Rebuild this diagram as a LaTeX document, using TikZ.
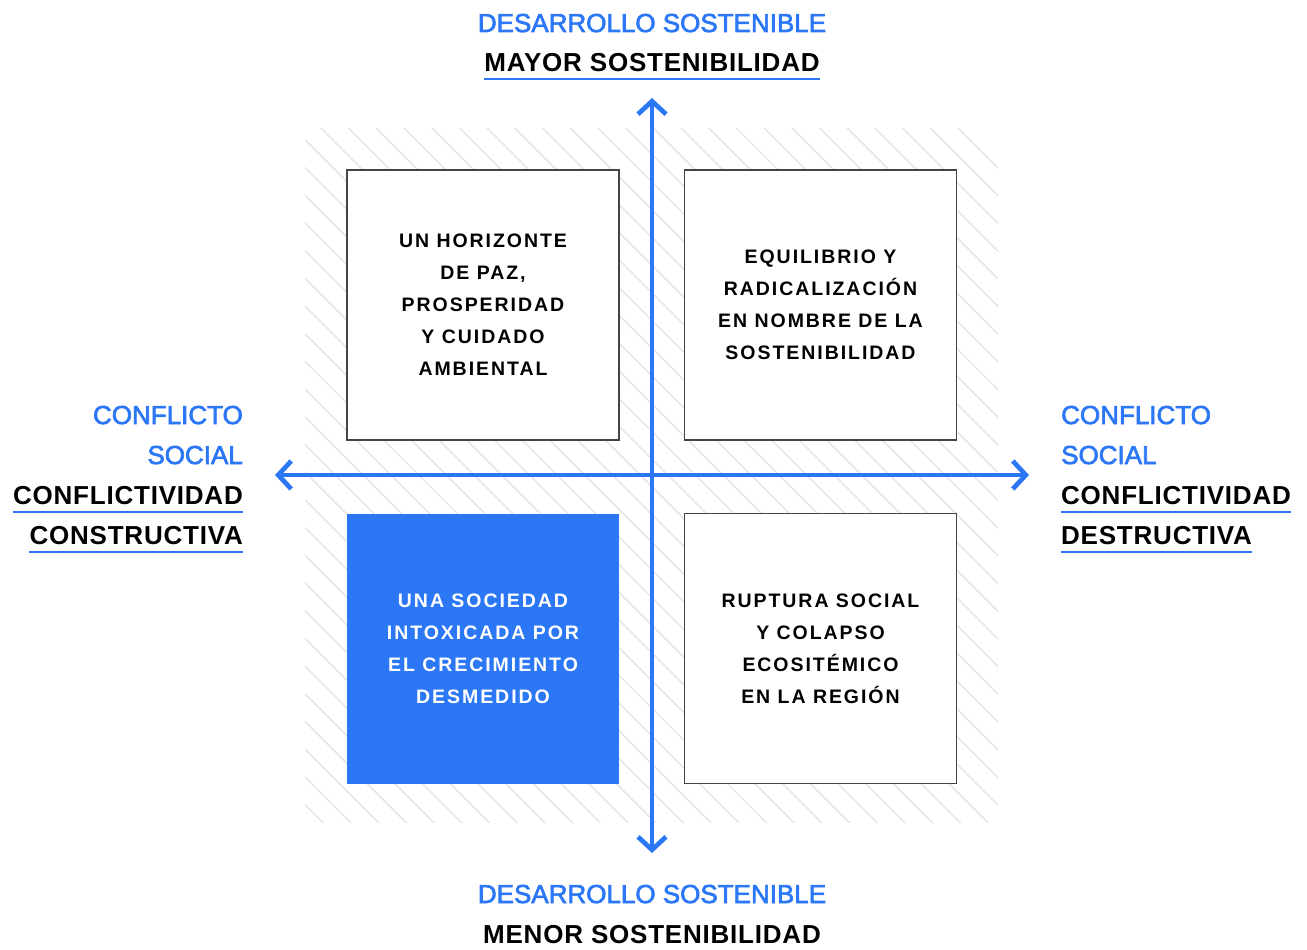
\documentclass[tikz,border=0pt]{standalone}
\usepackage{fontspec}
\setmainfont{Liberation Sans}
\newfontfamily\boxfont[LetterSpace=10]{Liberation Sans}
\newfontfamily\bluefont[FakeBold=2.5]{Liberation Sans}
\newfontfamily\blackfont[LetterSpace=3]{Liberation Sans}
\usepackage{xcolor}
\usepackage{tikz}
\usetikzlibrary{arrows.meta}
\definecolor{axisblue}{HTML}{2B77F6}
\definecolor{hatchgray}{HTML}{E6E6E6}
\definecolor{boxgray}{HTML}{444444}

\begin{document}
\begin{tikzpicture}[x=1pt, y=-1pt,
    hatch/.style = {color = hatchgray, line width = 1.5pt},
    axis/.style = {color = axisblue, line width = 4.7pt,
        {Straight Barb[length=13pt, width=28pt]}-{Straight Barb[length=13pt, width=28pt]}},
    quad/.style = {draw = boxgray, line width = 1.6pt, fill = white,
        minimum width = 272pt, minimum height = 270pt, inner sep = 0pt,
        align = center, font = {\boxfont\bfseries\fontsize{19.5}{32}\selectfont}},
    bluelbl/.style = {inner sep = 0pt, text = axisblue, font = {\bluefont\fontsize{26}{30}\selectfont}},
    blacklbl/.style = {inner sep = 0pt, font = {\blackfont\bfseries\fontsize{26}{30}\selectfont}},
    uline/.style = {color = axisblue, line width = 1.3pt}]
\useasboundingbox (0, 0) rectangle (1307, 950);

\begin{scope}
\clip (305, 128) rectangle (998, 822);
\foreach \k in {0, ..., 51}
    \draw [hatch] ({958 - 27.7*\k}, 128) -- ++(720, 720);
\end{scope}

\node [quad] (peace) at (483, 305) {UN HORIZONTE\\DE PAZ,\\PROSPERIDAD\\Y CUIDADO\\AMBIENTAL};
\node [quad] (balance) at (820.5, 305) {EQUILIBRIO Y\\RADICALIZACIÓN\\EN NOMBRE DE LA\\SOSTENIBILIDAD};
\node [quad, draw = none, fill = axisblue, text = white] (growth) at (483, 648.5)
    {UNA SOCIEDAD\\INTOXICADA POR\\EL CRECIMIENTO\\DESMEDIDO};
\node [quad] (rupture) at (820.5, 648.5) {RUPTURA SOCIAL\\Y COLAPSO\\ECOSITÉMICO\\EN LA REGIÓN};

\coordinate (north) at (652, 98);
\coordinate (south) at (652, 853);
\coordinate (west) at (275, 475);
\coordinate (east) at (1029, 475);
\draw [axis] (south) -- (north);
\draw [axis] (west) -- (east);

\node [bluelbl, anchor = base] (devtop) at (652, 32) {DESARROLLO SOSTENIBLE};
\node [blacklbl, anchor = base] (more) at (652, 72) {MAYOR SOSTENIBILIDAD};
\draw [uline] ([yshift = -7pt]more.base west) -- ([yshift = -7pt]more.base east);
\node [bluelbl, anchor = base] (devbot) at (652, 903) {DESARROLLO SOSTENIBLE};
\node [blacklbl, anchor = base] (less) at (652, 943) {MENOR SOSTENIBILIDAD};

\node [bluelbl, anchor = base east] (confL) at (243, 424) {CONFLICTO};
\node [bluelbl, anchor = base east] (socL) at (243, 464) {SOCIAL};
\node [blacklbl, anchor = base east] (ctvL) at (243, 504) {CONFLICTIVIDAD};
\node [blacklbl, anchor = base east] (cnsL) at (243, 544) {CONSTRUCTIVA};
\draw [uline] ([yshift = -8pt]ctvL.base west) -- ([yshift = -8pt]ctvL.base east);
\draw [uline] ([yshift = -8pt]cnsL.base west) -- ([yshift = -8pt]cnsL.base east);

\node [bluelbl, anchor = base west] (confR) at (1061, 424) {CONFLICTO};
\node [bluelbl, anchor = base west] (socR) at (1061, 464) {SOCIAL};
\node [blacklbl, anchor = base west] (ctvR) at (1061, 504) {CONFLICTIVIDAD};
\node [blacklbl, anchor = base west] (dstR) at (1061, 544) {DESTRUCTIVA};
\draw [uline] ([yshift = -8pt]ctvR.base west) -- ([yshift = -8pt]ctvR.base east);
\draw [uline] ([yshift = -8pt]dstR.base west) -- ([yshift = -8pt]dstR.base east);
\end{tikzpicture}
\end{document}
